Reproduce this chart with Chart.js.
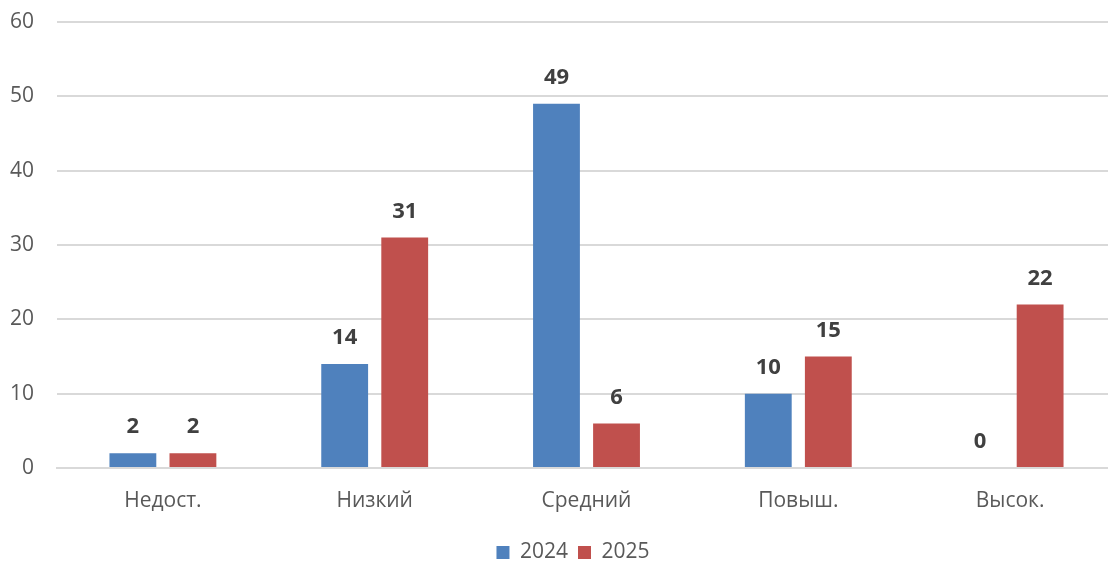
<!DOCTYPE html>
<html>
<head>
<meta charset="utf-8">
<script src="https://cdn.jsdelivr.net/npm/chart.js@4"></script>
<style>
  html, body { margin: 0; padding: 0; background: #fff; overflow: hidden; }
  #wrap { width: 1116px; height: 563px; position: relative; }
</style>
</head>
<body>
<div id="wrap"><canvas id="chart"></canvas></div>
<script>
// categories and values
const categories = ['Недост.', 'Низкий', 'Средний', 'Повыш.', 'Высок.'];
const values2024 = [2, 14, 49, 10, 0];
const values2025 = [2, 31, 6, 15, 22];
const seriesLabels = ['2024', '2025'];

// simple value labels above the bars
const valueLabels = {
    id: 'valueLabels',
    afterLayout(chart) {
        // nudge the legend a bit to the right, like the original
        chart.legend.left += 10;
        chart.legend.right += 10;
    },
    afterDatasetsDraw(chart) {
        const ctx = chart.ctx;
        ctx.save();
        ctx.font = 'bold 22px "Open Sans"';
        ctx.fillStyle = '#404040';
        ctx.textAlign = 'center';
        ctx.textBaseline = 'middle';
        chart.data.datasets.forEach((ds, i) => {
            chart.getDatasetMeta(i).data.forEach((bar, j) => {
                ctx.fillText(ds.data[j], bar.x, bar.y - 26);
            });
        });
        ctx.restore();
    }
};

const ctx = document.getElementById('chart').getContext('2d');
new Chart(ctx, {
    type: 'bar',
    data: {
        labels: categories,
        datasets: [
            { label: seriesLabels[0], data: values2024, backgroundColor: '#4F81BD' },
            { label: seriesLabels[1], data: values2025, backgroundColor: '#C0504D' }
        ]
    },
    options: {
        responsive: true,
        maintainAspectRatio: false,
        animation: false,
        categoryPercentage: 0.567,
        barPercentage: 0.78,
        layout: { padding: { top: 22, left: 10, right: 0, bottom: -10 } },
        scales: {
            x: {
                grid: { display: false },
                border: { color: '#D9D9D9', width: 2 },
                ticks: { color: '#595959', font: { family: 'Open Sans', size: 21 }, padding: 12 },
                afterFit(scale) {
                    scale.paddingLeft = 0;
                    scale.paddingRight = 0;
                    scale.height = 64;
                }
            },
            y: {
                min: 0,
                max: 60,
                ticks: { stepSize: 10, color: '#595959', font: { family: 'Open Sans', size: 21 }, padding: 23 },
                grid: { color: '#D9D9D9', lineWidth: 2, drawTicks: false },
                border: { display: false },
                afterFit(scale) {
                    scale.paddingTop = 0;
                    scale.paddingBottom = 0;
                    scale.width = 47;
                }
            }
        },
        plugins: {
            tooltip: { enabled: false },
            legend: {
                position: 'bottom',
                labels: {
                    boxWidth: 13,
                    boxHeight: 13,
                    color: '#595959',
                    font: { family: 'Open Sans', size: 21 },
                    padding: 10
                }
            }
        }
    },
    plugins: [valueLabels]
});
</script>
</body>
</html>
